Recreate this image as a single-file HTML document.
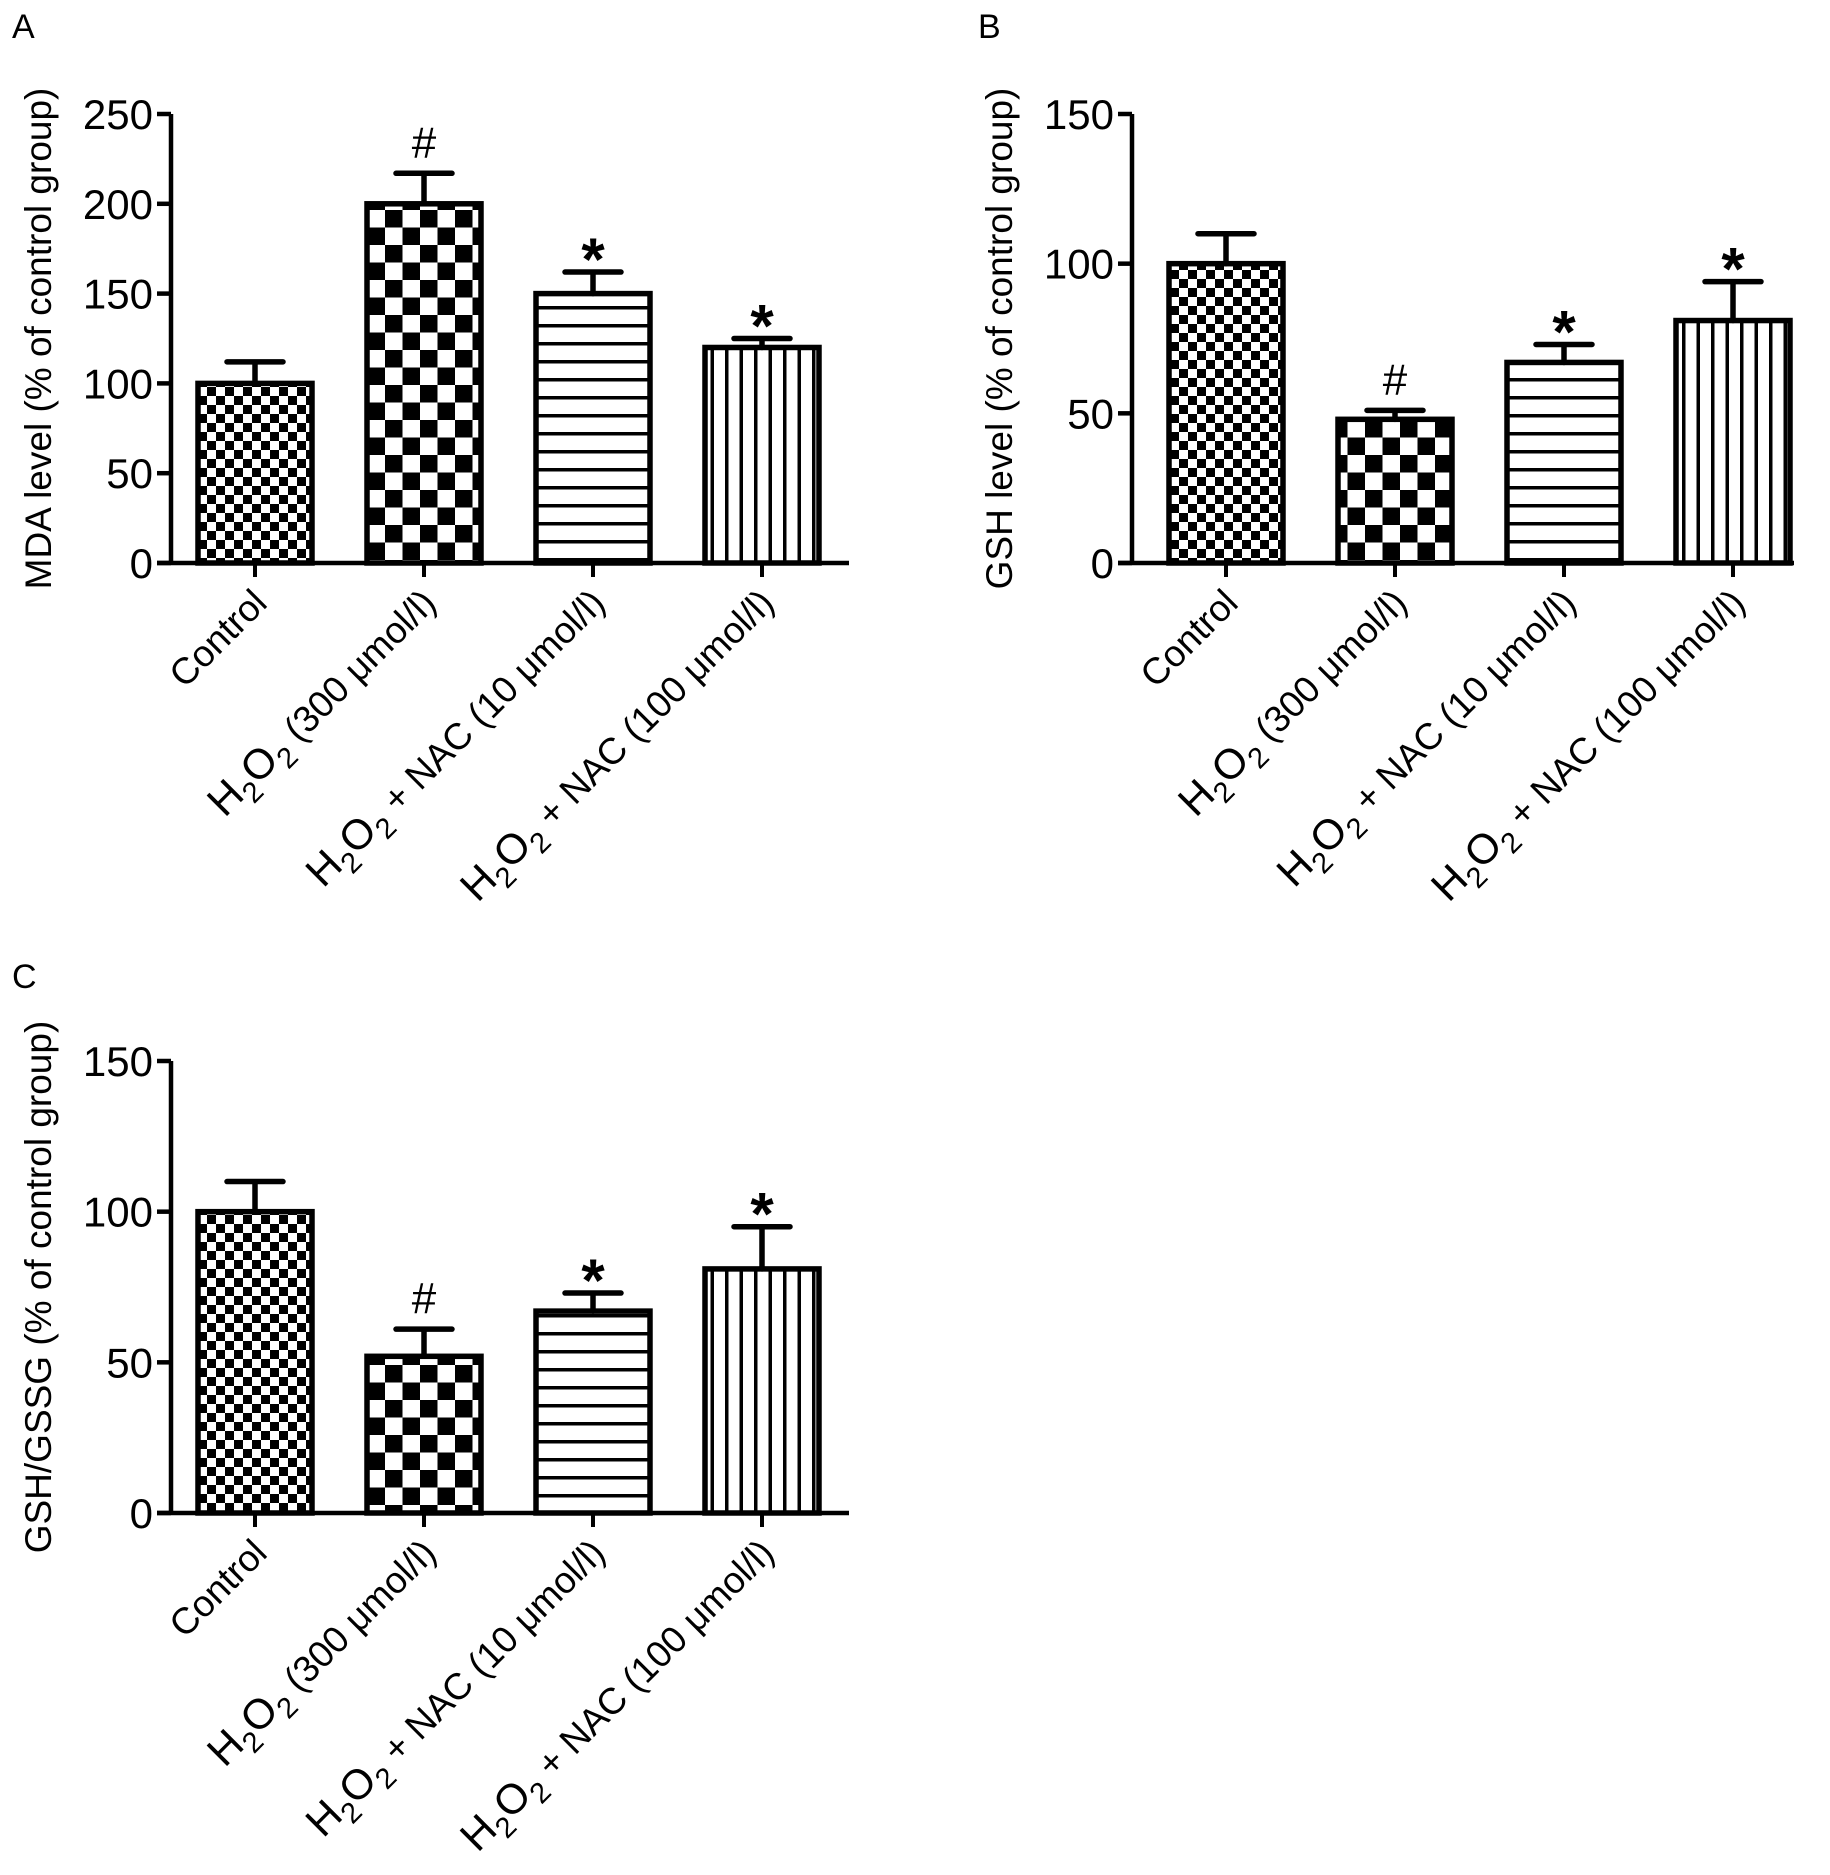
<!DOCTYPE html>
<html><head><meta charset="utf-8">
<style>
html,body{margin:0;padding:0;background:#fff;}
svg{display:block;font-family:"Liberation Sans",Arial,sans-serif;}
</style></head>
<body>
<svg id="fig" width="1830" height="1875" viewBox="0 0 1830 1875" xmlns="http://www.w3.org/2000/svg">
<defs>
<pattern id="pFine" width="18" height="18" patternUnits="userSpaceOnUse">
<rect width="18" height="18" fill="#fff"/><rect width="9" height="9" fill="#000"/><rect x="9" y="9" width="9" height="9" fill="#000"/>
</pattern>
<pattern id="pBig" width="35" height="35" patternUnits="userSpaceOnUse">
<rect width="35" height="35" fill="#fff"/><rect width="17.5" height="17.5" fill="#000"/><rect x="17.5" y="17.5" width="17.5" height="17.5" fill="#000"/>
</pattern>
<pattern id="pHor" width="20" height="18" patternUnits="userSpaceOnUse">
<rect width="20" height="18" fill="#fff"/><rect y="0" width="20" height="3.5" fill="#000"/>
</pattern>
<pattern id="pVer" width="14.5" height="20" patternUnits="userSpaceOnUse">
<rect width="14.5" height="20" fill="#fff"/><rect x="0" width="3.5" height="20" fill="#000"/>
</pattern>
</defs>
<text x="12" y="38" font-size="34">A</text>
<text x="978" y="38" font-size="34">B</text>
<text x="12" y="988" font-size="34">C</text>
</svg>
<script>
const categories = ["Control", "H2O2 (300 μmol/l)", "H2O2 + NAC (10 μmol/l)", "H2O2 + NAC (100 μmol/l)"];
const mdaValues = [100, 200, 150, 120];
const mdaErrors = [12, 17, 12, 5];
const mdaMarks = ["", "#", "*", "*"];
const mdaTicks = [0, 50, 100, 150, 200, 250];
const gshValues = [100, 48, 67, 81];
const gshErrors = [10, 3, 6, 13];
const gshMarks = ["", "#", "*", "*"];
const gshTicks = [0, 50, 100, 150];
const ratioValues = [100, 52, 67, 81];
const ratioErrors = [10, 9, 6, 14];
const ratioMarks = ["", "#", "*", "*"];
const ratioTicks = [0, 50, 100, 150];

const NS = "http://www.w3.org/2000/svg";
const svg = document.getElementById("fig");
const fills = ["url(#pFine)", "url(#pBig)", "url(#pHor)", "url(#pVer)"];
function mk(tag, attrs, parent) {
  const e = document.createElementNS(NS, tag);
  for (const k in attrs) e.setAttribute(k, attrs[k]);
  parent.appendChild(e);
  return e;
}
function panel(key, ax, off, y0, yTop, xEnd, ymax, ticks, values, errors, marks, title) {
  const g = mk("g", {}, svg);
  
  
  const yScale = v => y0 - v / ymax * (y0 - yTop);
  const band = 169, first = ax + off;
  const xScale = i => first + i * band;
  const bw = 114;
  values.forEach((v, i) => {
    const cx = xScale(i), top = yScale(v);
    const r = mk("rect", {x: cx - bw/2, y: top, width: bw, height: y0 - top, fill: fills[i], stroke: "#000", "stroke-width": 5.5}, g);
    
    
    const et = yScale(v + errors[i]);
    const el = mk("path", {d: `M${cx} ${top} V${et} M${cx-28} ${et} H${cx+28}`, stroke: "#000", "stroke-width": 5.5, "stroke-linecap": "round", fill: "none"}, g);
    
    
    if (marks[i]) {
      const isStar = marks[i] === "*";
      const t = mk("text", {x: cx, y: et - (isStar ? -8 : 16), "text-anchor": "middle", "font-size": isStar ? 60 : 44, "font-weight": isStar ? "bold" : "normal"}, g);
      t.textContent = marks[i];
      
      
    }
    const tk = mk("line", {x1: cx, y1: y0, x2: cx, y2: y0 + 14, stroke: "#000", "stroke-width": 4}, g);
    
    
    const lx = cx + 14, ly = y0 + 42;
    const lab = mk("text", {x: lx, y: ly, "text-anchor": "end", "font-size": 37, transform: `rotate(-45 ${lx} ${ly})`}, g);
    
    
    const c = categories[i];
    if (c.startsWith("H2O2")) {
      const parts = [["H", 0, 42], ["2", 11, 29], ["O", -11, 42], ["2", 11, 29], [c.slice(4), -11, 37]];
      parts.forEach(p => { const ts = mk("tspan", {dy: p[1], "font-size": p[2]}, lab); ts.textContent = p[0]; });
    } else lab.textContent = c;
  });
  const axes = mk("path", {d: `M${ax} ${yTop} V${y0} M${ax-14} ${y0} H${xEnd}`, stroke: "#000", "stroke-width": 4.5, fill: "none"}, g);
  
  
  ticks.forEach(t => {
    const y = yScale(t);
    const l = mk("line", {x1: ax - 14, y1: y, x2: ax, y2: y, stroke: "#000", "stroke-width": 4.5}, g);
    
    
    const tx = mk("text", {x: ax - 18, y: y + 15, "text-anchor": "end", "font-size": 42}, g);
    tx.textContent = t;
    
    
  });
  const tyc = (y0 + yTop) / 2, txc = ax - 120;
  const tt = mk("text", {x: txc, y: tyc, "text-anchor": "middle", "font-size": 37, transform: `rotate(-90 ${txc} ${tyc})`}, g);
  tt.textContent = title;
  
  
}
panel("mda", 171, 84, 563, 114, 849, 250, mdaTicks, mdaValues, mdaErrors, mdaMarks, "MDA level (% of control group)");
panel("gsh", 1132, 94, 563, 114, 1794, 150, gshTicks, gshValues, gshErrors, gshMarks, "GSH level (% of control group)");
panel("ratio", 171, 84, 1513, 1061, 849, 150, ratioTicks, ratioValues, ratioErrors, ratioMarks, "GSH/GSSG (% of control group)");
</script>
</body></html>
